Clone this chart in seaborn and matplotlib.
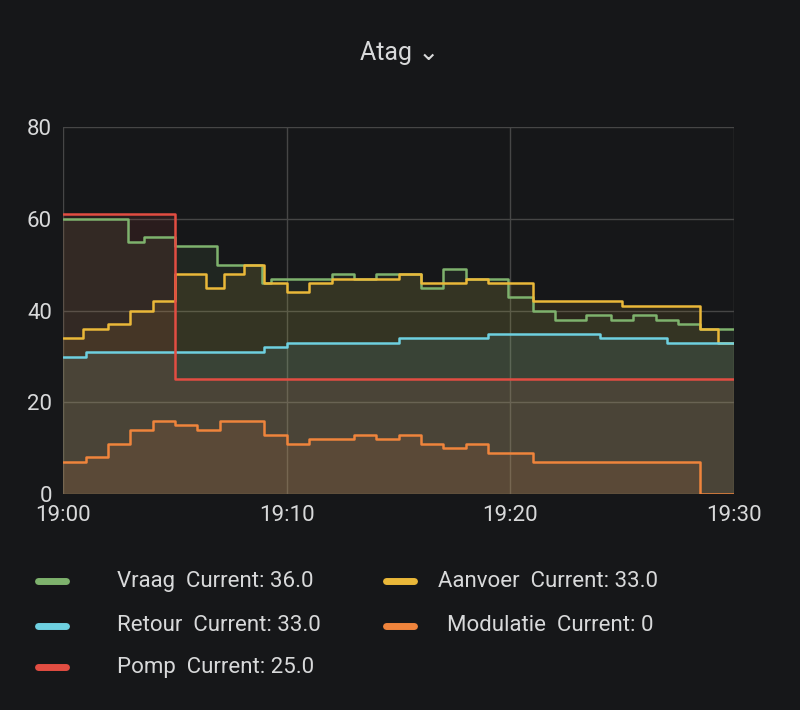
import matplotlib
matplotlib.use("Agg")
import matplotlib.pyplot as plt
import seaborn as sns
import pandas as pd
from matplotlib.lines import Line2D

vraag_t = [0, 2.9, 3.6, 5, 6.9, 8.9, 9.3, 12, 13, 14, 15, 16, 17, 18, 19.9, 21, 22, 23.4, 24.5, 25.5, 26.5, 27.5, 28.5, 30]
vraag_v = [60, 55, 56, 54, 50, 46, 47, 48, 47, 48, 48, 45, 49, 47, 43, 40, 38, 39, 38, 39, 38, 37, 36, 36]
aanvoer_t = [0, 0.9, 2, 3, 4, 5, 6.4, 7.2, 8.1, 9, 10, 11, 12, 15, 16, 18, 19, 21, 25, 28.5, 29.3, 30]
aanvoer_v = [34, 36, 37, 40, 42, 48, 45, 48, 50, 46, 44, 46, 47, 48, 46, 47, 46, 42, 41, 36, 33, 33]
retour_t = [0, 1, 9, 10, 15, 19, 24, 27, 30]
retour_v = [30, 31, 32, 33, 34, 35, 34, 33, 33]
pomp_t = [0, 5, 30]
pomp_v = [61, 25, 25]
mod_t = [0, 1, 2, 3, 4, 5, 6, 7, 9, 10, 11, 13, 14, 15, 16, 17, 18, 19, 21, 28.5, 30]
mod_v = [7, 8, 11, 14, 16, 15, 14, 16, 13, 11, 12, 13, 12, 13, 11, 10, 11, 9, 7, 0, 0]
xtick_labels = ["19:00", "19:10", "19:20", "19:30"]

series = [
    ("Vraag", vraag_t, vraag_v, "#7eb26d", "36.0"),
    ("Aanvoer", aanvoer_t, aanvoer_v, "#eab839", "33.0"),
    ("Retour", retour_t, retour_v, "#6ed0e0", "33.0"),
    ("Modulatie", mod_t, mod_v, "#ef843c", "0"),
    ("Pomp", pomp_t, pomp_v, "#e24d42", "25.0"),
]

sns.set_style("dark")
plt.rcParams["font.family"] = ["Roboto", "DejaVu Sans"]
bg = "#161719"
fig = plt.figure(figsize=(8, 7.1), dpi=100, facecolor=bg)
ax = fig.add_axes([0.079, 0.304, 0.8385, 0.517])
ax.set_facecolor(bg)

for name, t, v, c, cur in series:
    df = pd.DataFrame({"t": t, "v": v})
    sns.lineplot(data=df, x="t", y="v", ax=ax, color=c, lw=1.8, drawstyle="steps-post")
    ax.fill_between(t, v, step="post", color=c, alpha=0.1, lw=0)

ax.set_xlim(0, 30)
ax.set_ylim(0, 80)
ax.set_xticks([0, 10, 20, 30])
ax.set_xticklabels(xtick_labels)
ax.set_yticks([0, 20, 40, 60, 80])
ax.set_xlabel("")
ax.set_ylabel("")
ax.grid(True, color="#464646", lw=1)
for s in ax.spines.values():
    s.set_visible(False)
ax.tick_params(colors="#d8d9da", labelsize=16, length=0, pad=8)

fig.text(0.5, 0.925, "Atag \u2304", ha="center", va="center", color="#d8d9da", fontsize=18,
         family=["Roboto", "DejaVu Sans"])

leg = [
    (0.047, 0.181, 0, 0.063), (0.482, 0.181, 1, 0.03),
    (0.047, 0.119, 2, 0.063), (0.482, 0.119, 3, 0.041),
    (0.047, 0.060, 4, 0.063),
]
for x, y, i, off in leg:
    name, t, v, c, cur = series[i]
    fig.add_artist(Line2D([x, x + 0.036], [y, y], color=c, lw=5, transform=fig.transFigure))
    fig.text(x + 0.036 + off - 0.0, y, f"{name}  Current: {cur}", color="#d8d9da", fontsize=16, va="center")

fig.savefig("out.png", facecolor=bg)
